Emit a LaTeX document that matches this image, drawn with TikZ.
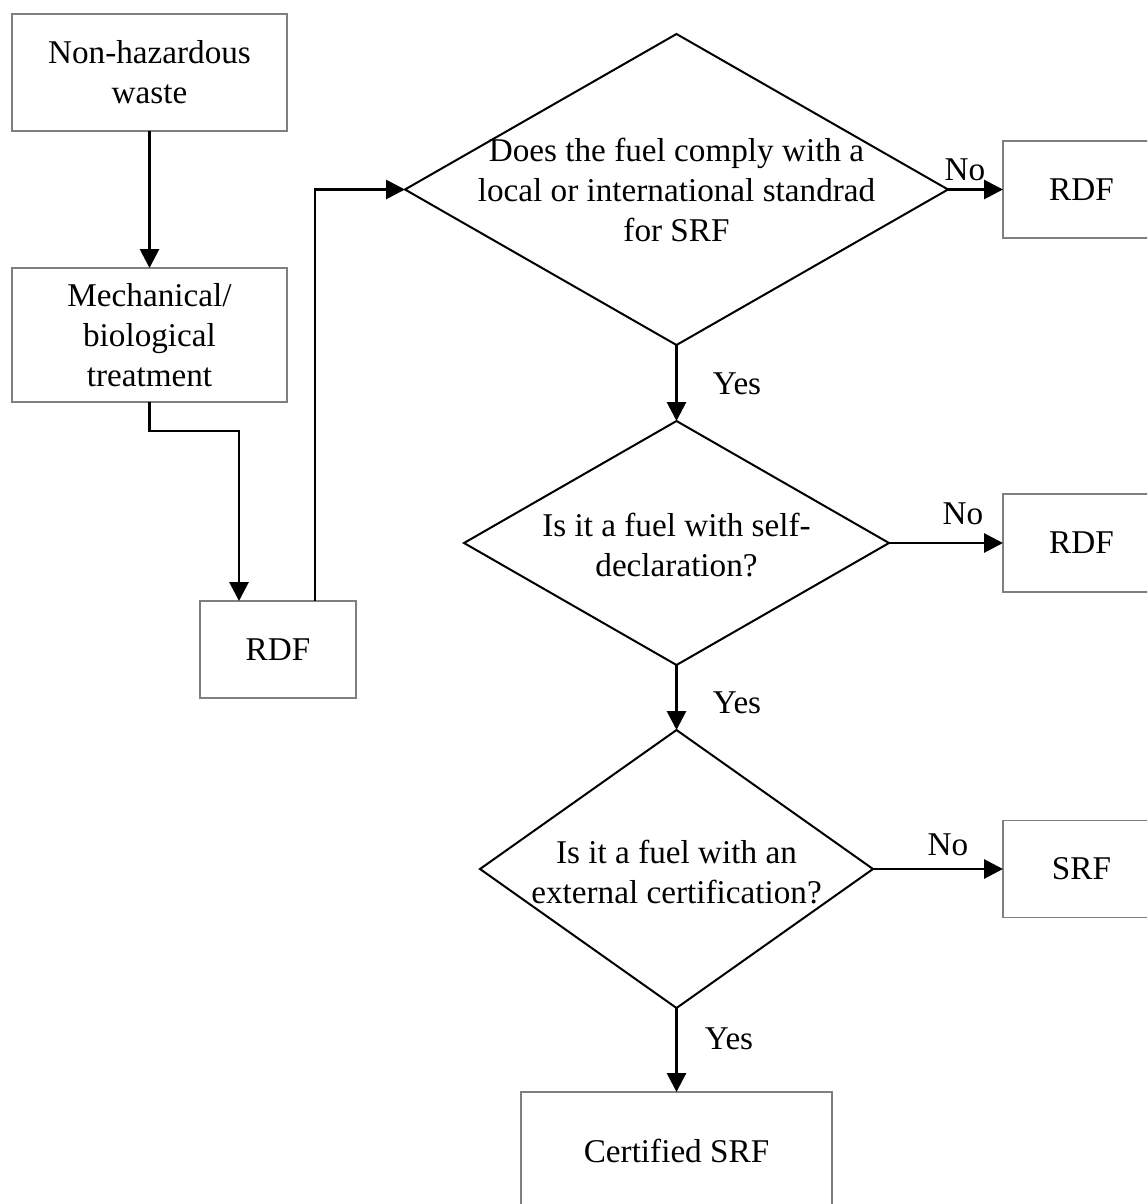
\documentclass[tikz,border=0pt]{standalone}
\usepackage{fontspec}
\setmainfont{Liberation Serif}
\usetikzlibrary{shapes.geometric,arrows.meta}
\definecolor{boxgray}{HTML}{7F7F7F}
\newcommand\figfont{\fontsize{16.6pt}{20pt}\selectfont}
\begin{document}
\begin{tikzpicture}[x=0.5pt,y=-0.5pt,
  box/.style={draw=boxgray, line width=0.65pt, rectangle, inner sep=0pt, outer sep=0pt, align=center, font=\figfont},
  dec/.style={draw=black, line width=1pt, diamond, inner sep=0pt, outer sep=0pt},
  txt/.style={align=center, font=\figfont, inner sep=0pt},
  arr/.style={line width=1.45pt, -{Triangle[length=9.5pt,width=9.5pt]}},
  lbl/.style={font=\figfont, inner sep=0pt}
]
\useasboundingbox (0,0) rectangle (1147,1204);
\fill[white] (0,0) rectangle (1147,1204);
\clip (0,0) rectangle (1147,1204);

% left column
\node[box, minimum width=137.5pt, minimum height=58.5pt] (b1) at (149.5,72.5) {Non-hazardous\\waste};
\node[box, minimum width=137.5pt, minimum height=67pt] (b2) at (149.5,335) {Mechanical/\\biological\\treatment};
\node[box, minimum width=78pt, minimum height=48.5pt] (b3) at (278,649.5) {RDF};

% decisions
\node[dec, minimum width=271.5pt, minimum height=155.5pt] (d1) at (676.5,189.5) {};
\node[txt] (t1) at (676.5,189.5) {Does the fuel comply with a\\local or international standrad\\for SRF};
\node[dec, minimum width=212.5pt, minimum height=122pt] (d2) at (676.5,543) {};
\node[txt] (t2) at (676.5,545) {Is it a fuel with self-\\declaration?};
\node[dec, minimum width=196.5pt, minimum height=139pt] (d3) at (676.5,869) {};
\node[txt] (t3) at (676.5,872) {Is it a fuel with an\\external certification?};

% outcomes
\node[box, minimum width=78.5pt, minimum height=48.5pt] (r1) at (1081.5,189.5) {RDF};
\node[box, minimum width=78.5pt, minimum height=49pt] (r2) at (1081.5,543) {RDF};
\node[box, minimum width=78.5pt, minimum height=48.5pt] (r3) at (1081.5,869) {SRF};
\node[box, minimum width=155.5pt, minimum height=59pt] (c) at (676.5,1151) {Certified SRF};

% connectors
\draw[arr] (b1.south) -- (b2.north);
\draw[arr] (b2.south) -- ++(0,29) -| ([xshift=19.5pt]b3.north west);
\draw[arr] ([xshift=18.5pt]b3.north) |- (d1.west);
\draw[arr] (d1.east) -- (r1.west);
\draw[arr] (d1.south) -- (d2.north);
\draw[arr] (d2.east) -- (r2.west);
\draw[arr] (d2.south) -- (d3.north);
\draw[arr] (d3.east) -- (r3.west);
\draw[arr] (d3.south) -- (c.north);

% labels
\node[lbl] (n1) at (965,170) {No};
\node[lbl] (y1) at (737,384) {Yes};
\node[lbl] (n2) at (963,514) {No};
\node[lbl] (y2) at (737,703) {Yes};
\node[lbl] (n3) at (948,845) {No};
\node[lbl] (y3) at (729,1039) {Yes};
\end{tikzpicture}
\end{document}
